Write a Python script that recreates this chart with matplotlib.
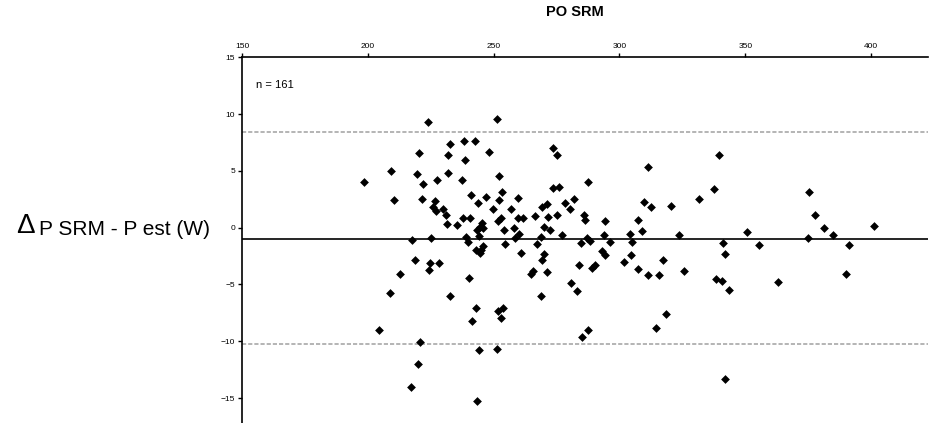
import matplotlib
matplotlib.use("Agg")
import matplotlib.pyplot as plt

plt.rcParams['font.family'] = ['Liberation Sans', 'DejaVu Sans']

po_srm = [
    224.0, 232.7, 238.2, 220.5, 232.0, 238.6, 209.2, 219.4, 232.0, 198.5,
    222.1, 227.5, 237.3, 210.4, 221.7, 226.8, 226.0, 227.1, 230.0, 231.1,
    237.9, 240.6, 231.4, 235.3, 217.7, 225.0, 238.9, 239.7,
    251.2, 242.6, 248.3, 273.5, 275.3, 252.3, 273.7, 276.0, 287.6, 253.3,
    241.0, 247.0, 243.8, 252.1, 259.8, 282.0, 278.4, 280.4, 271.3, 269.1,
    249.9, 256.9, 252.8, 251.9, 259.8, 261.8, 266.4, 271.7, 275.3, 286.1,
    286.3, 245.3, 244.6, 245.9, 243.3, 244.3, 254.3, 257.9, 260.2, 258.5,
    270.2, 272.2, 268.8, 277.1, 287.2, 288.3, 245.9, 254.5, 267.4, 284.7,
    339.6, 311.2, 337.6, 331.5, 309.9, 312.6, 320.4, 294.3, 307.3, 309.1,
    293.9, 304.2, 296.3, 304.9, 323.8, 341.1,
    375.2, 377.5, 381.3, 385.0, 350.6, 355.6, 374.8, 391.4, 401.2,
    218.8, 224.7, 228.3, 224.3, 212.8, 240.2, 208.8, 232.7, 204.6, 220.7,
    220.1, 217.2,
    243.0, 244.6, 245.0, 260.8, 270.0, 269.4, 265.6, 264.9, 271.2, 284.0,
    289.0, 290.3, 280.6, 283.2, 268.8, 242.9, 241.5, 251.9, 253.9, 253.0,
    287.4, 285.0, 244.2, 251.5, 243.3,
    293.0, 294.3, 304.6, 301.8, 317.2, 307.3, 311.5, 315.9, 325.8, 342.0,
    338.4, 340.7, 343.6, 318.5, 314.4, 341.8,
    362.8, 390.1,
]

delta_p = [
    9.27, 7.38, 7.62, 6.56, 6.41, 5.94, 5.00, 4.76, 4.82, 4.06,
    3.85, 4.17, 4.20, 2.47, 2.52, 2.35, 1.85, 1.47, 1.68, 1.09,
    0.88, 0.88, 0.29, 0.23, -1.09, -0.92, -0.83, -1.24,
    9.56, 7.59, 6.62, 7.00, 6.38, 4.53, 3.50, 3.58, 4.02, 3.14,
    2.85, 2.67, 2.20, 2.41, 2.61, 2.56, 2.14, 1.68, 2.12, 1.85,
    1.62, 1.62, 0.82, 0.58, 0.88, 0.88, 1.02, 0.94, 1.09, 1.15,
    0.71, 0.44, 0.09, -0.03, -0.21, -0.74, -0.24, -0.03, -0.59, -0.88,
    0.05, -0.21, -0.79, -0.65, -0.88, -1.18, -1.62, -1.47, -1.47, -1.38,
    6.38, 5.32, 3.38, 2.56, 2.29, 1.82, 1.94, 0.58, 0.71, -0.30,
    -0.65, -0.59, -1.27, -1.27, -0.65, -1.32,
    3.14, 1.11, -0.06, -0.62, -0.41, -1.54, -0.88, -1.54, 0.18,
    -2.89, -3.15, -3.15, -3.77, -4.06, -4.47, -5.74, -6.03, -9.00, -10.10,
    -12.00, -14.07,
    -2.00, -2.27, -2.00, -2.21, -2.36, -2.86, -3.83, -4.12, -3.89, -3.33,
    -3.53, -3.33, -4.85, -5.62, -6.00, -7.06, -8.24, -7.36, -7.06, -7.94,
    -9.00, -9.62, -10.74, -10.68, -15.24,
    -2.06, -2.42, -2.44, -3.00, -2.86, -3.68, -4.15, -4.21, -3.83, -2.36,
    -4.50, -4.74, -5.50, -7.59, -8.86, -13.33,
    -4.77, -4.12,
]

mean_bias = -1.03
upper_loa = 8.44
lower_loa = -10.24

x_ticks = [150, 200, 250, 300, 350, 400]
y_ticks = [-15, -10, -5, 0, 5, 10, 15]

fig = plt.figure(figsize=(9.30, 4.23), dpi=100)
ax = fig.add_axes([242 / 930, 0.0, (928 - 242) / 930, (423 - 57.3) / 423])
ax.set_xlim(150, 422.6)
ax.set_ylim(-17.2, 15)

ax.axhline(mean_bias, color='black', lw=1.2, zorder=1)
ax.axhline(upper_loa, color='#a8a8a8', lw=1.2, ls=(0, (2.5, 1.2)), zorder=1)
ax.axhline(lower_loa, color='#a8a8a8', lw=1.2, ls=(0, (2.5, 1.2)), zorder=1)

ax.scatter(po_srm, delta_p, marker='D', s=20, color='black', linewidths=0, zorder=3)

for s in ['right', 'bottom']:
    ax.spines[s].set_visible(False)
ax.spines['top'].set_linewidth(1.2)
ax.spines['left'].set_linewidth(1.2)

ax.xaxis.tick_top()
ax.set_xticks(x_ticks)
ax.set_yticks(y_ticks)
ax.tick_params(axis='both', direction='out', length=3, width=1, labelsize=6, pad=2)

ax.text(155.5, 12.6, 'n = 161', fontsize=8, va='center', ha='left')

fig.text(575 / 930, 1 - 12 / 423, 'PO SRM', fontsize=10.5, fontweight='bold',
         ha='center', va='center')
fig.text(16 / 930, 1 - 226 / 423, '\u0394', fontsize=20, ha='left', va='center')
fig.text(39 / 930, 1 - 229 / 423, 'P SRM - P est (W)', fontsize=15, ha='left', va='center')

fig.savefig('out.png', dpi=100, facecolor='white')
